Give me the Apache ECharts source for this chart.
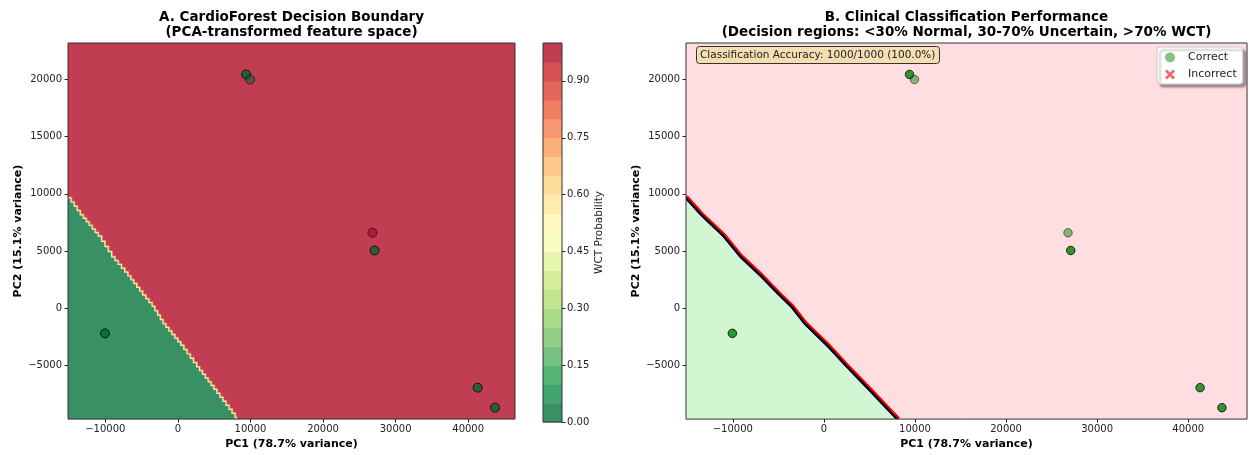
<!DOCTYPE html>
<html><head><meta charset="utf-8">
<script src="https://cdn.jsdelivr.net/npm/echarts@6/dist/echarts.min.js"></script>
<style>html,body{margin:0;padding:0;background:#fff}#c{width:1249px;height:455px}</style>
</head><body><div id="c"></div>
<script>
// ---- data ----
const xRange = [-15140, 46450];
const yRange = [-9700, 23200];
const xTicks = [-10000, 0, 10000, 20000, 30000, 40000];
const yTicks = [-5000, 0, 5000, 10000, 15000, 20000];
const cbTicks = [0, 0.15, 0.30, 0.45, 0.60, 0.75, 0.90];
const cbLevels = [0,0.05,0.1,0.15,0.2,0.25,0.3,0.35,0.4,0.45,0.5,0.55,0.6,0.65,0.7,0.75,0.8,0.85,0.9,0.95,1.0];
// decision boundary (P = 0.5)
const boundaryX = [-15140, -13460, -10990, -9135, -6895, -4870, -3560, -2065, 370, 2575, 4950, 7870, 8050];
const boundaryY = [9650, 8170, 6300, 4490, 2820, 1150, 150, -1370, -3250, -5140, -7100, -9550, -9700];
// samples (PCA space)
const ptX = [9400, 9950, 26800, 27100, -10050, 41300, 43700];
const ptY = [20450, 20000, 6600, 5050, -2200, -6950, -8700];
const ptProb = [0.0, 0.0, 1.0, 0.0, 0.0, 0.0, 0.0];
const ptCount = [6, 1, 1, 6, 6, 6, 6];
const ptCorrect = [true, true, true, true, true, true, true];
const accuracyText = 'Classification Accuracy: 1000/1000 (100.0%)';

// ---- styling helpers ----
const FONT = 'DejaVu Sans';
const rdylgn = ['#a50026','#d73027','#f46d43','#fdae61','#fee08b','#ffffbf','#d9ef8b','#a6d96a','#66bd63','#1a9850','#006837'];
function hex(h){return [parseInt(h.substr(1,2),16),parseInt(h.substr(3,2),16),parseInt(h.substr(5,2),16)];}
function cmapR(t){ // RdYlGn_r
  const u = (1 - t) * 10; const i = Math.min(9, Math.floor(u)); const f = u - i;
  const a = hex(rdylgn[i]), b = hex(rdylgn[i+1]);
  return [0,1,2].map(k => a[k] + (b[k]-a[k])*f);
}
function blend(c, alpha, bg){ return 'rgb(' + [0,1,2].map(k => Math.round(c[k]*alpha + bg[k]*(1-alpha))).join(',') + ')'; }
const WHITE=[255,255,255];
const bandColor = t => blend(cmapR(t), 0.8, WHITE);
const redBg = bandColor(0.975), greenBg = bandColor(0.025);
const pinkBg = 'rgb(255,222,226)', lightGreenBg = 'rgb(210,245,210)';
const minusFmt = v => String(v).replace('-', '\u2212');

// draw the pixel-space path as small mesh-like stairs (rendering style only)
function stairs(pts, step){
  if (!step) return pts;
  const out = [pts[0].slice()];
  for (let i = 1; i < pts.length; i++) {
    const a = pts[i-1], b = pts[i];
    const n = Math.max(1, Math.round(Math.abs(b[0]-a[0]) / step));
    for (let k = 1; k <= n; k++) {
      const x = a[0] + (b[0]-a[0]) * k / n;
      const yPrev = out[out.length-1][1];
      out.push([x, yPrev]);
      out.push([x, a[1] + (b[1]-a[1]) * k / n]);
    }
  }
  return out;
}
function boundaryPixels(api, dx, dy, step){
  const raw = boundaryX.map((x,i) => api.coord([x, boundaryY[i]]));
  return stairs(raw, step).map(c => [c[0]+dx, c[1]+dy]);
}

function axisX(grid){
  return {type:'value', gridIndex:grid, min:xRange[0], max:xRange[1], splitLine:{show:false},
    name:'PC1 (78.7% variance)', nameLocation:'middle', nameGap:19,
    nameTextStyle:{fontFamily:FONT, fontWeight:'bold', fontSize:11, color:'#000'},
    axisLine:{show:false, onZero:false}, axisTick:{show:true, length:3.5, lineStyle:{color:'#222'}, customValues:xTicks},
    axisLabel:{fontFamily:FONT, fontSize:10, color:'#222', margin:5, customValues:xTicks, formatter:minusFmt}};
}
function axisY(grid){
  return {type:'value', gridIndex:grid, min:yRange[0], max:yRange[1], splitLine:{show:false},
    name:'PC2 (15.1% variance)', nameLocation:'middle', nameGap:44, nameRotate:90,
    nameTextStyle:{fontFamily:FONT, fontWeight:'bold', fontSize:11, color:'#000'},
    axisLine:{show:false, onZero:false}, axisTick:{show:true, length:3.5, lineStyle:{color:'#222'}, customValues:yTicks},
    axisLabel:{fontFamily:FONT, fontSize:10, color:'#222', margin:6, customValues:yTicks, formatter:minusFmt}};
}
function regionSeries(ax, color, z, step){
  return {type:'custom', xAxisIndex:ax, yAxisIndex:ax, clip:true, z:z, silent:true, data:[0],
    renderItem:(p, api) => {
      const pts = boundaryPixels(api, 0, 0, step);
      pts.push(api.coord([xRange[0], yRange[0]]));
      return {type:'polygon', shape:{points:pts}, style:{fill:color, stroke:null}};
    }};
}
function boundaryLine(ax, color, width, dx, dy, z, step){
  return {type:'custom', xAxisIndex:ax, yAxisIndex:ax, clip:true, z:z, silent:true, data:[0],
    renderItem:(p, api) => ({type:'polyline', shape:{points:boundaryPixels(api, dx, dy, step)},
      style:{stroke:color, lineWidth:width, fill:null, lineJoin:'round', lineCap:'round'}})};
}
function frame(ax){
  return {type:'custom', xAxisIndex:ax, yAxisIndex:ax, z:20, silent:true, data:[0],
    renderItem:(p) => ({type:'rect', shape:{x:p.coordSys.x, y:p.coordSys.y, width:p.coordSys.width, height:p.coordSys.height},
      style:{fill:null, stroke:'#333', lineWidth:1}})};
}

// left scatter data
const leftPts = ptX.map((x,i) => {
  const a = 1 - Math.pow(0.3, ptCount[i]);
  const c = cmapR(ptProb[i]);
  return {value:[x, ptY[i]], itemStyle:{color:'rgba('+c.map(Math.round).join(',')+','+a+')', borderColor:'rgba(0,0,0,'+a+')', borderWidth:1}};
});
const rightCorrect = [], rightWrong = [];
ptX.forEach((x,i) => {
  const a = 1 - Math.pow(0.4, ptCount[i]);
  const item = {value:[x, ptY[i]], itemStyle:{color:'rgba(0,128,0,'+a+')', borderColor:'rgba(0,0,0,'+a+')', borderWidth:1}};
  (ptCorrect[i] ? rightCorrect : rightWrong).push(item);
});
const xPath = 'path://M-3,-5 L0,-2 L3,-5 L5,-3 L2,0 L5,3 L3,5 L0,2 L-3,5 L-5,3 L-2,0 L-5,-3 Z';

const chart = echarts.init(document.getElementById('c'), null, {renderer:'canvas'});
chart.setOption({
  animation:false,
  textStyle:{fontFamily:FONT},
  title:[{text:accuracyText, left:696, top:46, padding:[3,4,2,4],
    backgroundColor:'#f5deb3', borderColor:'#333', borderWidth:1, borderRadius:3,
    textStyle:{fontFamily:FONT, fontSize:10.5, fontWeight:'normal', color:'#222', lineHeight:13}}],
  graphic:[
    {type:'text', x:291.5, y:10, style:{text:'A. CardioForest Decision Boundary\n(PCA-transformed feature space)', textAlign:'center', font:'bold 13.5px "DejaVu Sans"', fill:'#000', lineHeight:15}},
    {type:'text', x:966.5, y:10, style:{text:'B. Clinical Classification Performance\n(Decision regions: <30% Normal, 30-70% Uncertain, >70% WCT)', textAlign:'center', font:'bold 13.5px "DejaVu Sans"', fill:'#000', lineHeight:15}}
  ],
  legend:{data:['Correct','Incorrect'], orient:'vertical', left:1157, top:47, padding:[5,6,4,8], itemGap:6,
    itemWidth:10, itemHeight:10, backgroundColor:'#fff', borderColor:'#ccc', borderWidth:1, borderRadius:3,
    shadowColor:'rgba(0,0,0,0.35)', shadowBlur:2, shadowOffsetX:3, shadowOffsetY:3,
    textStyle:{fontFamily:FONT, fontSize:11, color:'#222', padding:[0,0,0,8]}},
  grid:[
    {left:68, right:734, top:43, bottom:33, show:true, backgroundColor:redBg, borderWidth:0},
    {left:543, width:19, top:43, bottom:33, show:false},
    {left:686, right:2, top:43, bottom:33, show:true, backgroundColor:pinkBg, borderWidth:0}
  ],
  xAxis:[axisX(0),
    {type:'value', gridIndex:1, min:0, max:1, show:false},
    axisX(2)],
  yAxis:[axisY(0),
    {type:'value', gridIndex:1, min:0, max:1, position:'right', splitLine:{show:false},
      name:'WCT Probability', nameLocation:'middle', nameGap:32, nameRotate:90,
      nameTextStyle:{fontFamily:FONT, fontSize:10.5, color:'#222'},
      axisLine:{show:false, onZero:false}, axisTick:{show:true, length:3.5, lineStyle:{color:'#222'}, customValues:cbTicks},
      axisLabel:{fontFamily:FONT, fontSize:10, color:'#222', margin:5, customValues:cbTicks, formatter:v => v.toFixed(2)}},
    axisY(2)],
  series:[
    regionSeries(0, greenBg, 2, 3),
    boundaryLine(0, 'rgb(240,130,90)', 1, 0.8, -0.8, 3, 3),
    boundaryLine(0, 'rgb(248,240,170)', 1.2, 0, 0, 3, 3),
    {type:'scatter', name:'left', xAxisIndex:0, yAxisIndex:0, symbolSize:9, z:5, data:leftPts},
    frame(0),
    {type:'custom', xAxisIndex:1, yAxisIndex:1, z:3, silent:true, data:cbLevels.slice(0,-1).map((v,i)=>[v, cbLevels[i+1]]),
      renderItem:(p, api) => {
        const lo = api.value(0), hi = api.value(1);
        const a = api.coord([0, hi]), b = api.coord([1, lo]);
        return {type:'rect', shape:{x:a[0], y:a[1], width:b[0]-a[0], height:b[1]-a[1]+0.5}, style:{fill:bandColor((lo+hi)/2)}};
      }},
    frame(1),
    regionSeries(2, lightGreenBg, 2, 0),
    boundaryLine(2, 'rgb(0,0,255)', 1, -0.7, 0.7, 3, 0),
    boundaryLine(2, 'rgb(255,0,0)', 2.2, 1.3, -1.3, 3, 0),
    boundaryLine(2, 'rgb(0,0,0)', 2.2, 0, 0, 4, 0),
    {type:'scatter', name:'Correct', xAxisIndex:2, yAxisIndex:2, symbolSize:8.5, z:5,
      itemStyle:{color:'rgba(0,128,0,0.6)', borderWidth:0}, data:rightCorrect},
    {type:'scatter', name:'Incorrect', xAxisIndex:2, yAxisIndex:2, symbol:xPath, symbolSize:11, z:5,
      itemStyle:{color:'rgba(230,40,40,0.85)', borderWidth:0}, data:rightWrong},
    frame(2)
  ]
});
</script></body></html>
